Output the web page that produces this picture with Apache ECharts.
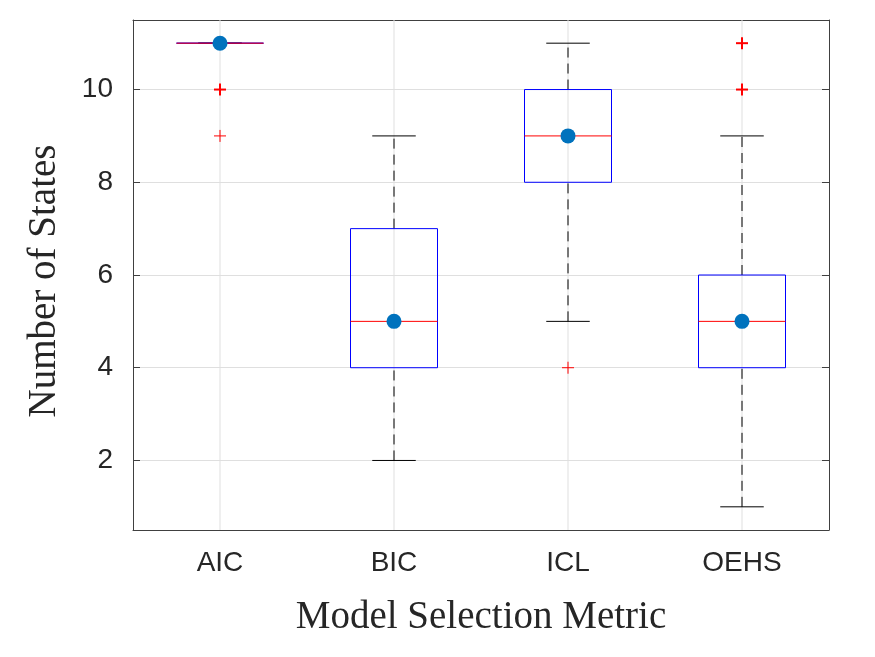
<!DOCTYPE html>
<html>
<head>
<meta charset="utf-8">
<script src="https://cdn.jsdelivr.net/npm/echarts@6/dist/echarts.min.js"></script>
<style>
  html, body { margin: 0; padding: 0; background: #fff; }
  #chart { width: 875px; height: 657px; }
</style>
</head>
<body>
<div id="chart"></div>
<script>
// categories and box statistics
const categories = ['AIC', 'BIC', 'ICL', 'OEHS'];
const whiskerLow = [11, 2, 5, 1];
const quart1 = [11, 4, 8, 4];
const medians = [11, 5, 9, 5];
const quart3 = [11, 7, 10, 6];
const whiskerHigh = [11, 9, 11, 9];
// outliers: [category index, value, count] (count > 1 drawn bolder)
const outliers = [
  [0, 10, 3], [0, 9, 1],
  [2, 4, 1],
  [3, 10, 3], [3, 11, 2]
];

const axisColor = '#404040';
const gridColor = '#dfdfdf';

const boxData = categories.map(function (c, i) {
  return [i, whiskerLow[i], quart1[i], medians[i], quart3[i], whiskerHigh[i]];
});

function renderBox(params, api) {
  const i = api.value(0);
  const lo = api.value(1), q1 = api.value(2), med = api.value(3), q3 = api.value(4), hi = api.value(5);
  const band = api.size([1, 0])[0];
  const half = band * 0.25, cap = band * 0.125;
  const x = api.coord([i, med])[0];
  const y = function (v) { return api.coord([i, v])[1]; };
  const dash = { stroke: '#000', lineWidth: 1, lineDash: [10, 6] };
  const solid = { stroke: '#000', lineWidth: 1 };
  return {
    type: 'group',
    children: [
      { type: 'line', shape: { x1: x, y1: y(q3), x2: x, y2: y(hi) }, style: dash },
      { type: 'line', shape: { x1: x, y1: y(lo), x2: x, y2: y(q1) }, style: dash },
      { type: 'line', shape: { x1: x - cap, y1: y(hi), x2: x + cap, y2: y(hi) }, style: solid },
      { type: 'line', shape: { x1: x - cap, y1: y(lo), x2: x + cap, y2: y(lo) }, style: solid },
      { type: 'rect', shape: { x: x - half, y: y(q3), width: half * 2, height: y(q1) - y(q3) },
        style: { fill: null, stroke: '#0000ff', lineWidth: 1 } },
      { type: 'line', shape: { x1: x - half, y1: y(med), x2: x + half, y2: y(med) },
        style: { stroke: '#ff0000', lineWidth: 1 } }
    ]
  };
}

function renderPlus(params, api) {
  const p = api.coord([api.value(0), api.value(1)]);
  const s = 6;
  const st = { stroke: '#ff0000', lineWidth: api.value(2) > 1 ? 2 : 1 };
  return {
    type: 'group',
    children: [
      { type: 'line', shape: { x1: p[0] - s, y1: p[1], x2: p[0] + s, y2: p[1] }, style: st },
      { type: 'line', shape: { x1: p[0], y1: p[1] - s, x2: p[0], y2: p[1] + s }, style: st }
    ]
  };
}

// vertical grid lines at the category centres
function renderVGrid(params, api) {
  const cs = params.coordSys;
  const x = api.coord([api.value(0), 0])[0];
  return {
    type: 'line',
    shape: { x1: x, y1: cs.y, x2: x, y2: cs.y + cs.height },
    style: { stroke: gridColor, lineWidth: 1 }
  };
}

const chart = echarts.init(document.getElementById('chart'));
chart.setOption({
  animation: false,
  backgroundColor: '#fff',
  grid: { left: 133, right: 46, top: 20, bottom: 127, show: false },
  xAxis: [{
    type: 'category',
    data: categories,
    position: 'bottom',
    name: 'Model Selection Metric',
    nameLocation: 'middle',
    nameGap: 68,
    nameTextStyle: { fontFamily: 'Liberation Serif', fontSize: 39, color: '#262626' },
    axisLine: { lineStyle: { color: axisColor } },
    axisTick: { inside: true, length: 7, alignWithLabel: true, lineStyle: { color: axisColor } },
    axisLabel: { fontFamily: 'Liberation Sans', fontSize: 28, color: '#262626', margin: 19 },
    splitLine: { show: false }
  }, {
    type: 'category',
    data: categories,
    position: 'top',
    axisLine: { lineStyle: { color: axisColor } },
    axisTick: { inside: true, length: 7, alignWithLabel: true, lineStyle: { color: axisColor } },
    axisLabel: { show: false },
    splitLine: { show: false }
  }],
  yAxis: [{
    type: 'value',
    min: 0.5,
    max: 11.5,
    position: 'left',
    name: 'Number of States',
    nameLocation: 'middle',
    nameGap: 69,
    nameTextStyle: { fontFamily: 'Liberation Serif', fontSize: 39, color: '#262626',
      padding: [0, 12, 0, 0] },
    axisLine: { show: true, lineStyle: { color: axisColor } },
    axisTick: { show: true, inside: true, length: 7, lineStyle: { color: axisColor } },
    axisLabel: { fontFamily: 'Liberation Sans', fontSize: 28, color: '#262626', margin: 20,
      showMinLabel: false, showMaxLabel: false },
    splitLine: { show: true, lineStyle: { color: gridColor } }
  }, {
    type: 'value',
    min: 0.5,
    max: 11.5,
    position: 'right',
    axisLine: { show: true, lineStyle: { color: axisColor } },
    axisTick: { show: true, inside: true, length: 7, lineStyle: { color: axisColor } },
    axisLabel: { show: false },
    splitLine: { show: false }
  }],
  series: [{
    type: 'custom',
    z: 1,
    renderItem: renderVGrid,
    data: categories.map(function (c, i) { return [i]; }),
    encode: { x: 0 },
    silent: true
  }, {
    type: 'custom',
    z: 2,
    renderItem: renderBox,
    data: boxData,
    encode: { x: 0, y: [1, 2, 3, 4, 5] }
  }, {
    type: 'custom',
    z: 3,
    renderItem: renderPlus,
    data: outliers,
    encode: { x: 0, y: 1 }
  }, {
    type: 'scatter',
    z: 4,
    symbolSize: 15,
    itemStyle: { color: '#0072bd', opacity: 1 },
    data: medians.map(function (m, i) { return [i, m]; })
  }]
});
</script>
</body>
</html>
